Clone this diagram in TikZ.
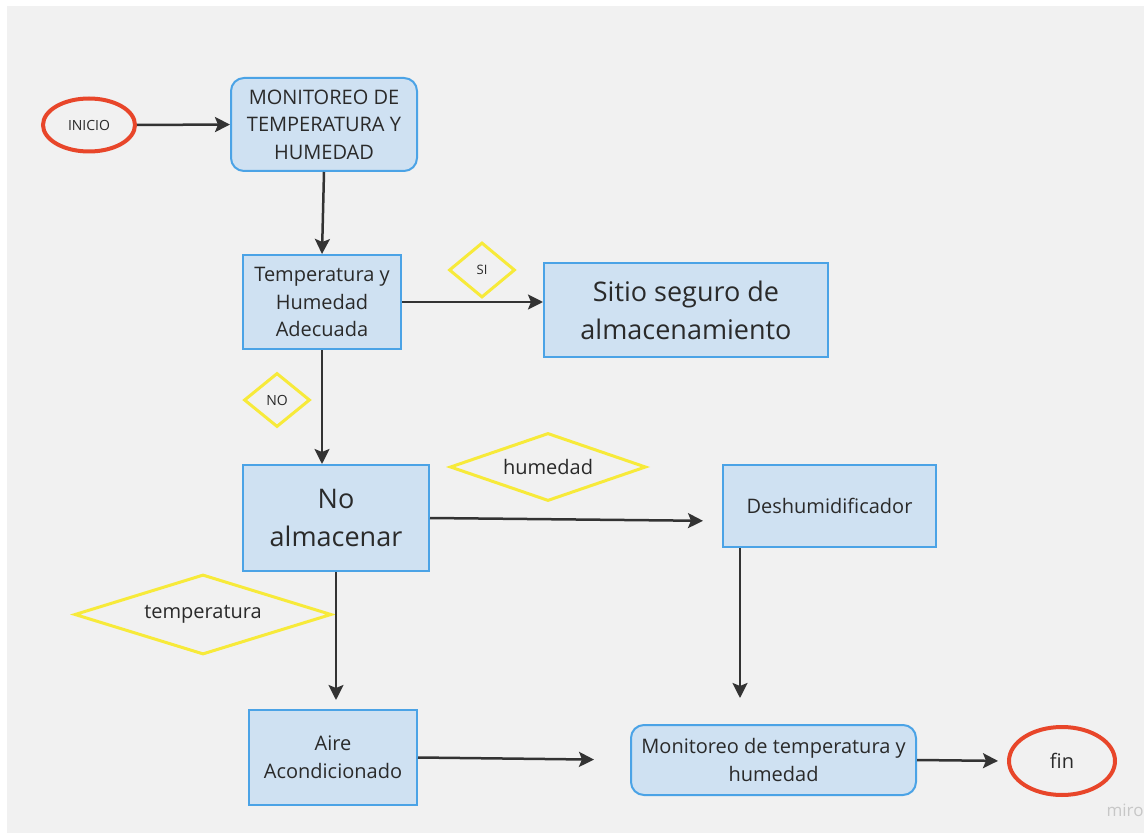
\documentclass[tikz,border=0pt]{standalone}
\usepackage{fontspec}
\setmainfont{Open Sans}
\usetikzlibrary{arrows.meta,shapes.geometric,calc}
\definecolor{bgc}{HTML}{F1F1F1}
\definecolor{boxfill}{HTML}{CFE1F2}
\definecolor{boxline}{HTML}{4BA3E6}
\definecolor{redl}{HTML}{E8462A}
\definecolor{yell}{HTML}{F7EA3A}
\definecolor{txt}{HTML}{2A2A2A}
\definecolor{arr}{HTML}{333333}
\tikzset{
  box/.style={rectangle, draw=boxline, fill=boxfill, line width=2pt, align=center, inner sep=0pt, text=txt},
  rbox/.style={box, rounded corners=13pt},
  term/.style={ellipse, draw=redl, line width=4pt, inner sep=0pt, text=txt, align=center},
  cond/.style={diamond, draw=yell, line width=3pt, inner sep=0pt, text=txt, align=center},
  conn/.style={draw=arr, line width=2.5pt, -{Stealth[length=15pt,width=15pt,inset=3pt]}},
  fmid/.style={font=\fontsize{20}{27.5}\selectfont},
  fbig/.style={font=\fontsize{27}{38}\selectfont},
  fsmall/.style={font=\fontsize{14}{17}\selectfont},
}
\begin{document}
\begin{tikzpicture}[x=1pt,y=-1pt]
\useasboundingbox (0,0) rectangle (1146,834);
\fill[white] (0,0) rectangle (1146,834);
\fill[bgc] (7,6) rectangle (1144,833);

\node[term, fsmall, minimum width=92, minimum height=53] (inicio) at (89,125) {INICIO};
\node[rbox, fmid, minimum width=186, minimum height=93] (mon1) at (324,124.5) {MONITOREO DE\\TEMPERATURA Y\\HUMEDAD};
\node[box, fmid, minimum width=158, minimum height=94] (tya) at (322,302) {Temperatura y\\Humedad\\Adecuada};
\node[box, fbig, minimum width=284, minimum height=94] (sitio) at (686,310) {Sitio seguro de\\almacenamiento};
\node[cond, font=\fontsize{13}{15}\selectfont, minimum width=66, minimum height=55] (si) at (482,270) {SI};
\node[cond, fsmall, minimum width=66, minimum height=54] (no) at (277,400) {NO};
\node[box, fbig, minimum width=186, minimum height=106] (noalm) at (336,518) {No\\almacenar};
\node[cond, fmid, aspect=2.88, minimum width=196, minimum height=68] (hum) at (548,467) {humedad};
\node[box, fmid, minimum width=213, minimum height=82] (desh) at (829.5,506) {Deshumidificador};
\node[cond, fmid, aspect=3.2, minimum width=257, minimum height=80] (temp) at (203,614.5) {temperatura};
\node[box, fmid, minimum width=168, minimum height=95] (aire) at (333,757.5) {Aire\\Acondicionado};
\node[rbox, fmid, minimum width=285, minimum height=70] (mon2) at (773.5,760) {Monitoreo de temperatura y\\humedad};
\node[term, fmid, minimum width=106, minimum height=68] (fin) at (1062,761) {fin};
\node[text=black!22, font=\fontsize{17}{20}\selectfont, anchor=west] (miro) at (1103,810) {miro};

\draw[conn] (inicio.east) -- (mon1.west);
\draw[conn] (mon1.south) -- (tya.north);
\draw[conn] (tya.east) -- (tya.east -| sitio.west);
\draw[conn] (tya.south) -- (tya.south |- noalm.north);
\draw[conn, shorten >=19pt] (noalm.east) -- ($(desh.west)+(0,15)$);
\draw[conn, shorten >=9pt] (noalm.south) -- (noalm.south |- aire.north);
\draw[conn, shorten >=36pt] (aire.east) -- (mon2.west);
\draw[conn, shorten >=26pt] ($(desh.south west)+(18,0)$) coordinate (dsw) -- (dsw |- mon2.north);
\draw[conn, shorten >=9pt] (mon2.east) -- (fin.west);
\end{tikzpicture}
\end{document}
